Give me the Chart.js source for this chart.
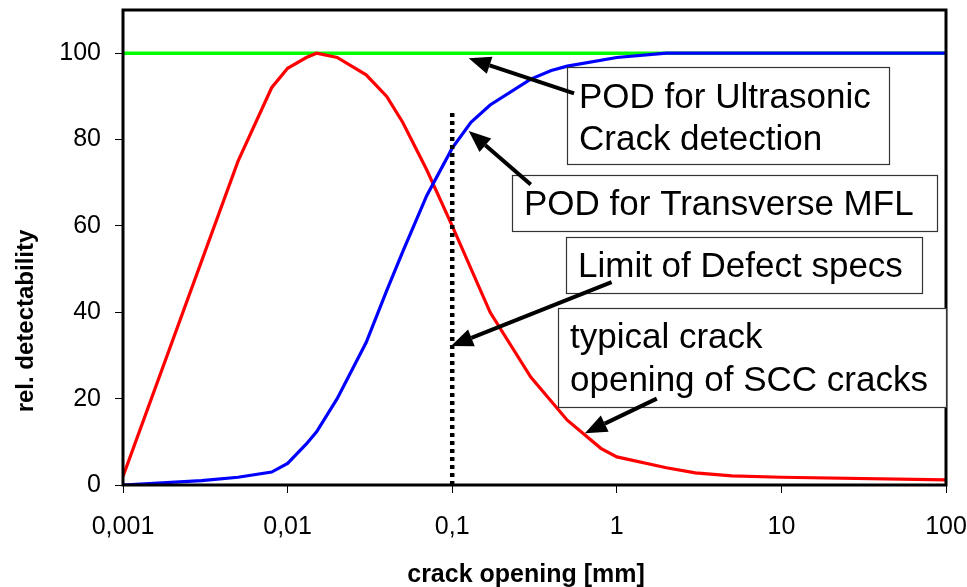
<!DOCTYPE html>
<html lang="en">
<head>
  <meta charset="UTF-8" />
  <title>Crack opening detectability</title>
  <script src="https://cdn.jsdelivr.net/npm/chart.js"></script>
  <style>
    body { margin: 0; background: #fff; }
    #wrap { width: 967px; height: 587px; }
  </style>
</head>
<body>
  <div id="wrap"><canvas id="podChart" width="967" height="587"></canvas></div>
  <script>
    // crack opening [mm] (log axis) and relative detectability values
    const sccX = [0.001, 0.005, 0.008, 0.01, 0.013, 0.015, 0.02, 0.03, 0.04, 0.05, 0.07, 0.1, 0.17, 0.3, 0.5, 0.8, 1, 2, 3, 5, 10, 100];
    const sccY = [2, 75, 92, 96.5, 99, 100, 99, 95, 90, 84, 73, 60, 40, 25, 15, 8.5, 6.5, 4, 2.8, 2.1, 1.8, 1.2];

    const mflX = [0.001, 0.003, 0.005, 0.008, 0.01, 0.013, 0.015, 0.02, 0.03, 0.04, 0.05, 0.07, 0.1, 0.13, 0.17, 0.3, 0.4, 0.5, 1, 2, 100];
    const mflY = [0, 1, 1.8, 3, 5, 9.5, 12.3, 20, 33, 45, 54, 67, 78, 84, 88, 94, 96, 97, 99, 100, 100];

    const utX = [0.001, 100];
    const utY = [100, 100];

    const limitX = [0.1, 0.1];
    const limitY = [0, 87];

    const xTickValues = [0.001, 0.01, 0.1, 1, 10, 100];
    const xTickLabels = ['0,001', '0,01', '0,1', '1', '10', '100'];
    const yTickValues = [0, 20, 40, 60, 80, 100];

    const pts = (xs, ys) => xs.map((x, i) => ({ x: x, y: ys[i] }));

    // text boxes (pixels) and arrows (data coords: from tail to tip)
    const boxes = [
      { x: 567, y: 67, w: 322, h: 97, tx: 579, ty: [108, 150], lines: ['POD for Ultrasonic', 'Crack detection'] },
      { x: 512, y: 175, w: 425, h: 56, tx: 524, ty: [215], lines: ['POD for Transverse MFL'] },
      { x: 566, y: 237, w: 356, h: 56, tx: 578, ty: [277], lines: ['Limit of Defect specs'] },
      { x: 558, y: 308, w: 388, h: 99, tx: 570, ty: [348, 391], lines: ['typical crack', 'opening of SCC cracks'] }
    ];
    const arrows = [
      { from: [0.55, 90.7], to: [0.126, 98.8] },
      { from: [0.30, 69.6], to: [0.126, 82] },
      { from: [0.93, 47], to: [0.0983, 32.2] },
      { from: [1.75, 20], to: [0.64, 12] }
    ];

    const sansFont = '"Liberation Sans", Arial, sans-serif';

    function drawArrow(ctx, x1, y1, x2, y2) {
      const ang = Math.atan2(y2 - y1, x2 - x1);
      const len = 22, half = 9;
      const bx = x2 - len * Math.cos(ang), by = y2 - len * Math.sin(ang);
      ctx.beginPath();
      ctx.moveTo(x1, y1);
      ctx.lineTo(bx, by);
      ctx.lineWidth = 4;
      ctx.strokeStyle = '#000';
      ctx.stroke();
      ctx.beginPath();
      ctx.moveTo(x2, y2);
      ctx.lineTo(bx + half * Math.sin(ang), by - half * Math.cos(ang));
      ctx.lineTo(bx - half * Math.sin(ang), by + half * Math.cos(ang));
      ctx.closePath();
      ctx.fillStyle = '#000';
      ctx.fill();
    }

    const extras = {
      id: 'extras',
      afterDraw(chart) {
        const ctx = chart.ctx;
        const a = chart.chartArea;
        const xs = chart.scales.x, ys = chart.scales.y;
        ctx.save();

        // plot frame
        ctx.lineWidth = 3;
        ctx.strokeStyle = '#000';
        ctx.strokeRect(a.left, a.top, a.right - a.left, a.bottom - a.top);

        // text boxes
        ctx.font = '35px ' + sansFont;
        ctx.textBaseline = 'alphabetic';
        ctx.textAlign = 'left';
        boxes.forEach(b => {
          ctx.fillStyle = '#fff';
          ctx.fillRect(b.x, b.y, b.w, b.h);
          ctx.lineWidth = 1.2;
          ctx.strokeStyle = '#333';
          ctx.strokeRect(b.x + 0.5, b.y + 0.5, b.w, b.h);
          ctx.fillStyle = '#000';
          b.lines.forEach((t, i) => ctx.fillText(t, b.tx, b.ty[i]));
        });

        // arrows
        arrows.forEach(ar => {
          drawArrow(ctx,
            xs.getPixelForValue(ar.from[0]), ys.getPixelForValue(ar.from[1]),
            xs.getPixelForValue(ar.to[0]), ys.getPixelForValue(ar.to[1]));
        });

        // axis titles
        ctx.fillStyle = '#000';
        ctx.font = 'bold 25px ' + sansFont;
        ctx.textAlign = 'center';
        ctx.fillText('crack opening [mm]', 526, 582);
        ctx.translate(33, 321);
        ctx.rotate(-Math.PI / 2);
        ctx.font = 'bold 24px ' + sansFont;
        ctx.fillText('rel. detectability', 0, 0);
        ctx.restore();
      }
    };

    const ctx = document.getElementById('podChart').getContext('2d');
    const podChart = new Chart(ctx, {
      type: 'scatter',
      data: {
        datasets: [
          { label: 'Limit of Defect specs', data: pts(limitX, limitY), borderColor: '#000', borderWidth: 4.5, borderDash: [4, 4] },
          { label: 'POD for Transverse MFL', data: pts(mflX, mflY), borderColor: '#0000ff', borderWidth: 3.2 },
          { label: 'typical crack opening of SCC cracks', data: pts(sccX, sccY), borderColor: '#ff0000', borderWidth: 3.2 },
          { label: 'POD for Ultrasonic Crack detection', data: pts(utX, utY), borderColor: '#00ff00', borderWidth: 3.5 }
        ]
      },
      options: {
        responsive: false,
        animation: false,
        devicePixelRatio: 1,
        showLine: true,
        elements: {
          point: { radius: 0, hoverRadius: 0 },
          line: { tension: 0, fill: false }
        },
        layout: { padding: { top: 10, right: 21, left: 0, bottom: 0 } },
        plugins: {
          legend: { display: false },
          tooltip: { enabled: false }
        },
        scales: {
          x: {
            type: 'logarithmic',
            min: 0.001,
            max: 100,
            afterBuildTicks: (scale) => { scale.ticks = xTickValues.map(v => ({ value: v })); },
            afterFit: (scale) => {
              scale.height = 102;
              scale.paddingLeft = 0;
              scale.paddingRight = 0;
            },
            ticks: {
              autoSkip: false,
              maxRotation: 0,
              padding: 19,
              color: '#000',
              font: { family: sansFont, size: 25 },
              callback: (value, index) => xTickLabels[index]
            },
            grid: { drawOnChartArea: false, drawTicks: true, tickLength: 8, color: '#000', lineWidth: 1 },
            border: { display: false }
          },
          y: {
            min: 0,
            max: 110,
            afterBuildTicks: (scale) => { scale.ticks = yTickValues.map(v => ({ value: v })); },
            afterFit: (scale) => {
              scale.width = 123;
              scale.paddingTop = 0;
              scale.paddingBottom = 0;
            },
            ticks: {
              padding: 14,
              color: '#000',
              font: { family: sansFont, size: 25 }
            },
            grid: { drawOnChartArea: false, drawTicks: true, tickLength: 8, color: '#000', lineWidth: 1 },
            border: { display: false }
          }
        }
      },
      plugins: [extras]
    });
  </script>
</body>
</html>
